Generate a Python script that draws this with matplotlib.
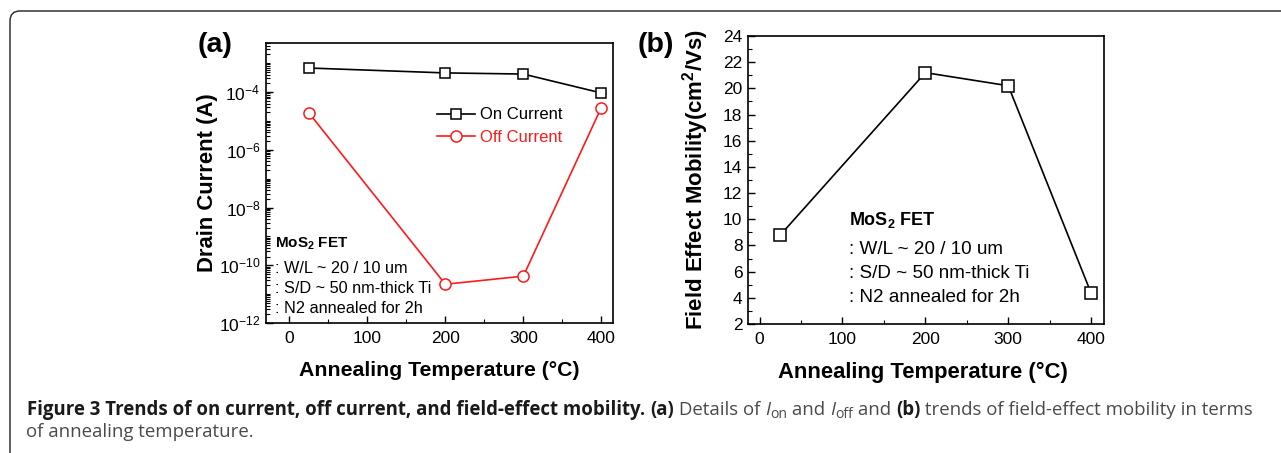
import numpy as np
import matplotlib
matplotlib.use('Agg')
import matplotlib.pyplot as plt
from matplotlib.patches import FancyBboxPatch
from matplotlib.ticker import FixedLocator, LogLocator, MultipleLocator, NullFormatter
from matplotlib.transforms import IdentityTransform

plt.rcParams['font.family'] = ['Liberation Sans', 'DejaVu Sans']

# data
temps = [25, 200, 300, 400]
on_current = [6.8e-4, 4.6e-4, 4.2e-4, 9.3e-5]
off_current = [1.9e-5, 2.2e-11, 4.2e-11, 2.9e-5]
mobility = [8.8, 21.2, 20.2, 4.35]

notes = [': W/L ~ 20 / 10 um', ': S/D ~ 50 nm-thick Ti', ': N2 annealed for 2h']
log_ticks = [1e-12, 1e-10, 1e-8, 1e-6, 1e-4]
log_labels = ['$\\mathregular{10^{-12}}$', '$\\mathregular{10^{-10}}$', '$\\mathregular{10^{-8}}$',
              '$\\mathregular{10^{-6}}$', '$\\mathregular{10^{-4}}$']

W, H = 1281, 453
fig = plt.figure(figsize=(W / 100, H / 100), dpi=100)
red = '#ff1a1a'


def px_axes(l, t, r, b):
    return fig.add_axes([l / W, 1 - b / H, (r - l) / W, (b - t) / H])


def style(ax):
    for s in ax.spines.values():
        s.set_linewidth(1.2)
    ax.tick_params(which='both', direction='in', top=False, right=False, labelsize=12.5)
    ax.tick_params(which='major', length=5, width=1)
    ax.tick_params(which='minor', length=3, width=0.8)
    ax.tick_params(axis='x', pad=6)
    ax.tick_params(axis='y', pad=4)


# ---- (a) drain current
ax1 = px_axes(266, 43, 613, 323)
ax1.set_yscale('log')
ax1.plot(temps, on_current, '-s', color='black', lw=1.2, ms=7.5, mfc='white', mew=1.1,
         label='On Current')
ax1.plot(temps, off_current, '-o', color=red, lw=1.2, ms=8, mfc='white', mew=1.1,
         label='Off Current')
ax1.set_xlim(-30, 415)
ax1.set_ylim(1e-12, 5e-3)
ax1.xaxis.set_major_locator(MultipleLocator(100))
ax1.xaxis.set_minor_locator(MultipleLocator(50))
ax1.yaxis.set_major_locator(FixedLocator(log_ticks))
ax1.set_yticklabels(log_labels)
ax1.yaxis.set_minor_locator(LogLocator(base=10, subs=np.arange(1, 10), numticks=30))
ax1.yaxis.set_minor_formatter(NullFormatter())
style(ax1)
ax1.set_xlabel('Annealing Temperature (°C)', fontsize=15.3, fontweight='bold', va='center')
ax1.xaxis.set_label_coords(0.5, -0.168)
ax1.set_ylabel('Drain Current (A)', fontsize=15.8, fontweight='bold', va='center')
ax1.yaxis.set_label_coords(-0.170, 0.5)
ax1.legend(loc='upper left', bbox_to_anchor=(0.493, 0.77), frameon=False, fontsize=12,
           handlelength=2.3, handletextpad=0.3, labelspacing=0.45, borderpad=0,
           borderaxespad=0, labelcolor='linecolor')
ax1.text(0.025, 0.285, 'MoS$_\\mathregular{2}$ FET', transform=ax1.transAxes, fontsize=11,
         fontweight='bold', va='center')
for i, s in enumerate(notes):
    ax1.text(0.025, 0.193 - i * 0.07, s, transform=ax1.transAxes, fontsize=11.7, va='center')

# ---- (b) mobility
ax2 = px_axes(748, 36, 1104, 324)
ax2.plot(temps, mobility, '-s', color='black', lw=1.2, ms=8, mfc='white', mew=1.1)
ax2.set_xlim(-14, 415.5)
ax2.set_ylim(2, 24)
ax2.xaxis.set_major_locator(MultipleLocator(100))
ax2.xaxis.set_minor_locator(MultipleLocator(50))
ax2.yaxis.set_major_locator(MultipleLocator(2))
ax2.yaxis.set_minor_locator(MultipleLocator(1))
style(ax2)
ax2.set_xlabel('Annealing Temperature (°C)', fontsize=15.8, fontweight='bold', va='center')
ax2.xaxis.set_label_coords(0.49, -0.167)
ax2.set_ylabel('Field Effect Mobility(cm$^\\mathregular{2}$/Vs)', fontsize=16, fontweight='bold',
               va='center')
ax2.yaxis.set_label_coords(-0.147, 0.5)
ax2.text(0.285, 0.361, 'MoS$_\\mathregular{2}$ FET', transform=ax2.transAxes, fontsize=13,
         fontweight='bold', va='center')
for i, s in enumerate(notes):
    ax2.text(0.285, 0.257 - i * 0.083, s, transform=ax2.transAxes, fontsize=13.6, va='center')

# panel letters
fig.text(198 / W, 1 - 45 / H, '(a)', fontsize=20.5, fontweight='bold', va='center')
fig.text(638 / W, 1 - 45 / H, '(b)', fontsize=20.5, fontweight='bold', va='center')

# rounded frame around the whole figure
frame = FancyBboxPatch((0.10, -1.0), 13.0, 4.42 + 1.0, boxstyle='round,pad=0,rounding_size=0.1',
                       transform=fig.dpi_scale_trans, fill=False, ec='#333333', lw=1.1)
fig.patches.append(frame)

# caption, drawn chunk by chunk
cap_font = 'Open Sans'
dark = '#1a1a1a'
grey = '#4a4a4a'
line1 = [
    ('Figure 3 Trends of on current, off current, and field-effect mobility. ', 'bold', 'normal', dark, 1.0, 0),
    ('(a)', 'bold', 'normal', dark, 1.0, 0),
    (' Details of ', 'normal', 'normal', grey, 1.0, 0),
    ('I', 'normal', 'italic', grey, 1.0, 0),
    ('on', 'normal', 'normal', grey, 0.75, -3),
    (' and ', 'normal', 'normal', grey, 1.0, 0),
    ('I', 'normal', 'italic', grey, 1.0, 0),
    ('off', 'normal', 'normal', grey, 0.75, -3),
    (' and ', 'normal', 'normal', grey, 1.0, 0),
    ('(b)', 'bold', 'normal', dark, 1.0, 0),
    (' trends of field-effect mobility in terms', 'normal', 'normal', grey, 1.0, 0),
]
line2 = [('of annealing temperature.', 'normal', 'normal', grey, 1.0, 0)]

renderer = fig.canvas.get_renderer()


def draw_line(chunks, x0, ybase, size):
    x = x0
    arts = []
    for s, wt, st, col, scale, dy in chunks:
        t = fig.text(x, H - ybase + dy, s, transform=IdentityTransform(), family=cap_font,
                     fontsize=size * scale, fontweight=wt, fontstyle=st, color=col,
                     va='baseline', ha='left')
        bb = t.get_window_extent(renderer)
        x = bb.x1
        arts.append(t)
    return arts, x - x0


arts, width = draw_line(line1, 27, 415, 10)
for a in arts:
    a.remove()
size = 10 * 1231 / width
draw_line(line1, 27, 415, size)
draw_line(line2, 26, 437, size)

fig.savefig('out.png', dpi=100)
